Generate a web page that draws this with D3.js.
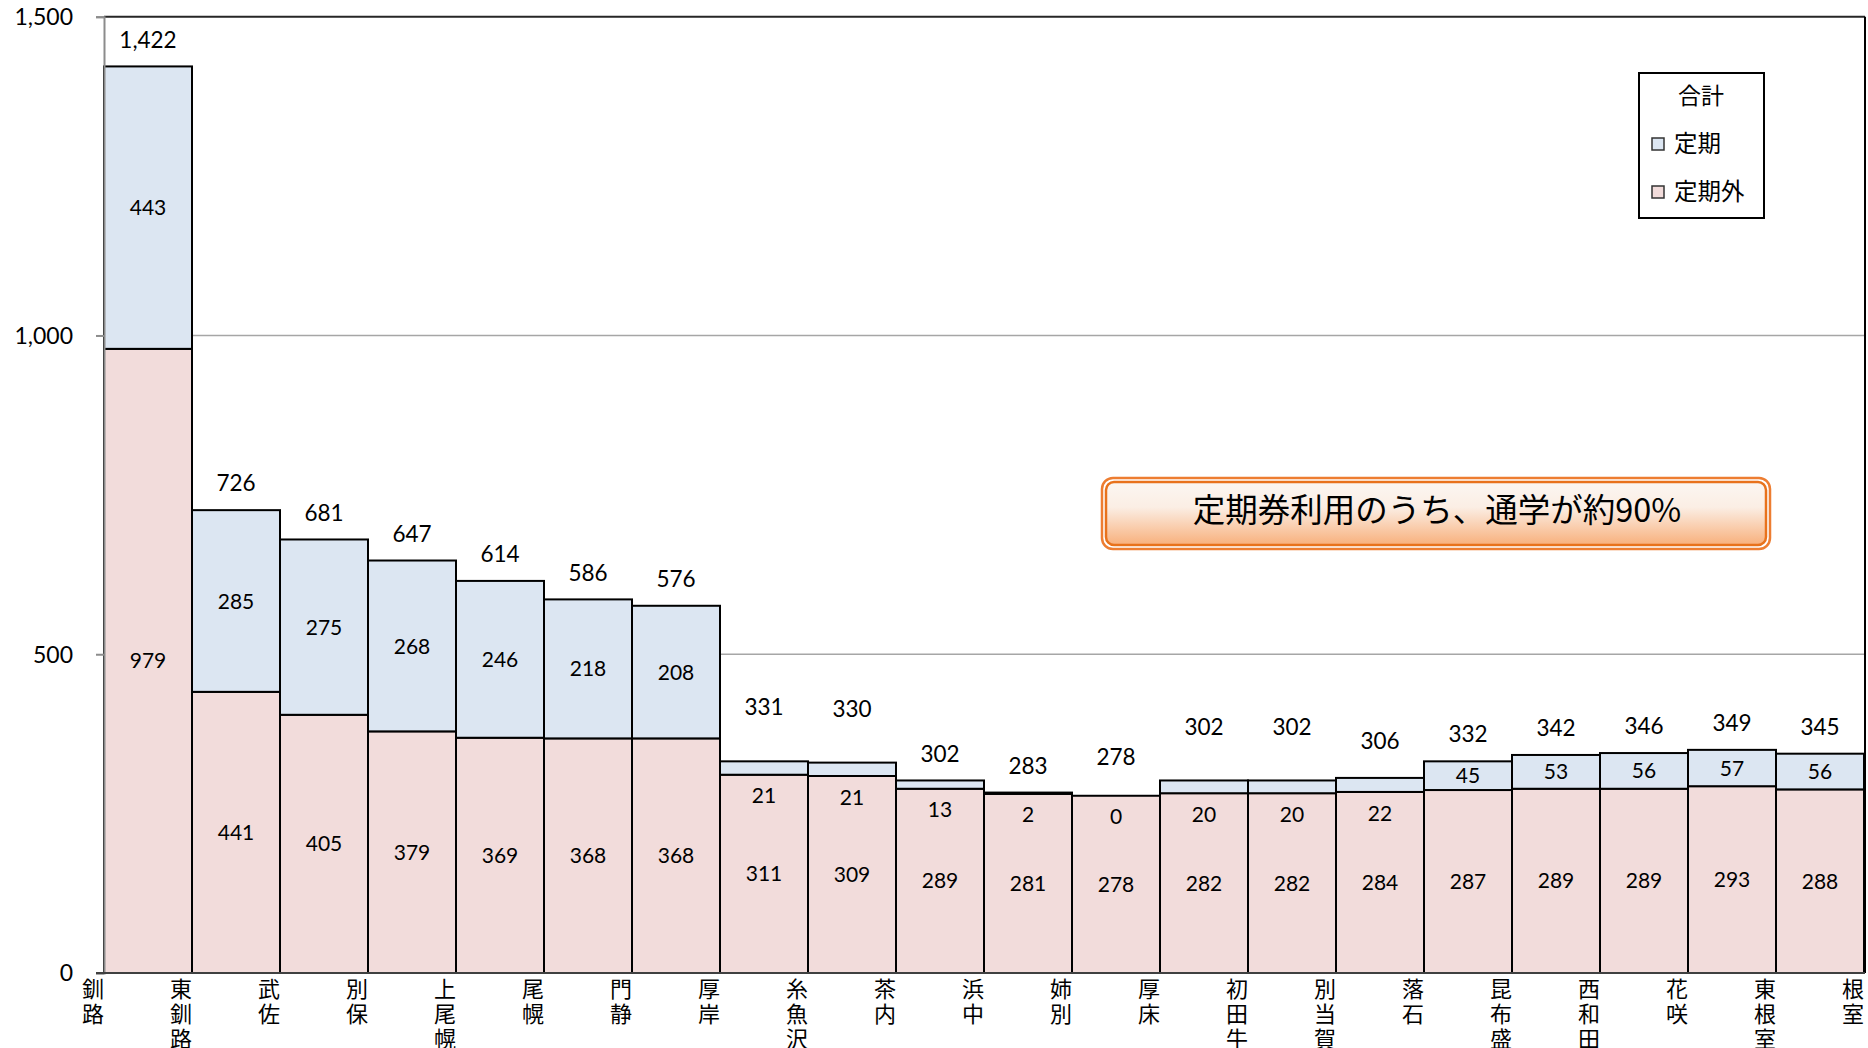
<!DOCTYPE html>
<html lang="ja">
<head>
<meta charset="utf-8">
<script src="https://cdn.jsdelivr.net/npm/d3@7"></script>
<style>
  html, body { margin: 0; padding: 0; background: #fff; overflow: hidden; }
  svg { display: block; }
  .num { font-family: Lato, "Open Sans", sans-serif; fill: #000; }
  .jp  { font-family: "Noto Sans CJK JP", "Noto Sans", sans-serif; fill: #000; }
</style>
</head>
<body>
<svg id="chart" width="1868" height="1048"></svg>
<script>
// Stations along the line, in order; each bar covers the section between two neighbours.
const stations = ["釧路","東釧路","武佐","別保","上尾幌","尾幌","門静","厚岸","糸魚沢","茶内",
                  "浜中","姉別","厚床","初田牛","別当賀","落石","昆布盛","西和田","花咲","東根室","根室"];

// Passengers per section: season-ticket (定期) and non-season-ticket (定期外).
const teiki    = [443, 285, 275, 268, 246, 218, 208, 21, 21, 13, 2, 0, 20, 20, 22, 45, 53, 56, 57, 56];
const teikigai = [979, 441, 405, 379, 369, 368, 368, 311, 309, 289, 281, 278, 282, 282, 284, 287, 289, 289, 293, 288];
// Published section totals (合計).
const totals   = [1422, 726, 681, 647, 614, 586, 576, 331, 330, 302, 283, 278, 302, 302, 306, 332, 342, 346, 349, 345];

// Extra lift (px) for total labels that sit higher to stay clear of neighbours.
const totalLabelLift = [0, 0, 0, 0, 0, 0, 0, 27, 27, 0, 0, 12, 27, 27, 10, 0, 0, 0, 0, 0];

const yTicks = [0, 500, 1000, 1500];
const seriesNames = ["定期", "定期外"];
const note = "定期券利用のうち、通学が約90%";

const colors = { teiki: "#dce6f2", teikigai: "#f2dcdb" };

const plot = { left: 104, right: 1864, top: 16.7, bottom: 973 };

const svg = d3.select("#chart");

const x = d3.scaleLinear().domain([0, stations.length - 1]).range([plot.left, plot.right]);
const y = d3.scaleLinear().domain([0, 1500]).range([plot.bottom, plot.top]);

// Gridlines
svg.append("g").selectAll("line")
  .data(yTicks.filter(t => t > 0 && t < 1500))
  .join("line")
  .attr("x1", plot.left).attr("x2", plot.right)
  .attr("y1", d => y(d)).attr("y2", d => y(d))
  .attr("stroke", "#a6a6a6").attr("stroke-width", 1.5);

// Stacked data
const rows = teiki.map((t, i) => ({ i, teiki: t, teikigai: teikigai[i], total: totals[i] }));
const stack = d3.stack().keys(["teikigai", "teiki"])(rows);

const barG = svg.append("g");
stack.forEach(layer => {
  barG.append("g").selectAll("rect")
    .data(layer)
    .join("rect")
    .attr("x", d => x(d.data.i))
    .attr("width", d => x(d.data.i + 1) - x(d.data.i))
    .attr("y", d => y(d[1]))
    .attr("height", d => Math.max(0, y(d[0]) - y(d[1])))
    .attr("fill", colors[layer.key])
    .attr("stroke", "#000")
    .attr("stroke-width", 2);
});

// Plot frame: top and right edges, bottom axis, left axis
svg.append("line").attr("x1", plot.left).attr("x2", plot.right + 1)
  .attr("y1", plot.top).attr("y2", plot.top).attr("stroke", "#262626").attr("stroke-width", 2);
svg.append("line").attr("x1", plot.right + 1).attr("x2", plot.right + 1)
  .attr("y1", plot.top).attr("y2", plot.bottom).attr("stroke", "#000").attr("stroke-width", 2);

const yAxis = d3.axisLeft(y).tickValues(yTicks).tickSize(8).tickFormat(d3.format(","));
const yG = svg.append("g").attr("transform", `translate(${plot.left},0)`).call(yAxis);
yG.select(".domain").attr("stroke", "#8c8c8c").attr("stroke-width", 2);
yG.selectAll(".tick line").attr("stroke", "#8c8c8c").attr("stroke-width", 2);
yG.selectAll(".tick text").attr("class", "num").attr("font-size", 23).attr("x", -31).attr("dy", "0.34em");

svg.append("line").attr("x1", plot.left - 8).attr("x2", plot.right + 1)
  .attr("y1", plot.bottom).attr("y2", plot.bottom).attr("stroke", "#404040").attr("stroke-width", 2);

// Station names, written vertically one character per line
const stG = svg.append("g");
stations.forEach((name, i) => {
  const t = stG.append("text").attr("class", "jp").attr("font-size", 22)
    .attr("text-anchor", "middle");
  Array.from(name).forEach((ch, k) => {
    t.append("tspan").attr("x", x(i) - 11).attr("y", 997 + k * 25).text(ch);
  });
});

// Value labels
const fmt = d3.format(",");
const labG = svg.append("g");
rows.forEach(d => {
  const cx = (x(d.i) + x(d.i + 1)) / 2;
  const top = y(d.teikigai + d.teiki);
  const pinkTop = y(d.teikigai);
  // total
  labG.append("text").attr("class", "num").attr("font-size", 22.5).attr("text-anchor", "middle")
    .attr("x", cx).attr("y", top - 27 - totalLabelLift[d.i]).attr("dy", "0.36em").text(fmt(d.total));
  // season-ticket segment
  const ty = d.teiki < 30 ? pinkTop + 21 : (top + pinkTop) / 2;
  labG.append("text").attr("class", "num").attr("font-size", 21).attr("text-anchor", "middle")
    .attr("x", cx).attr("y", ty).attr("dy", "0.36em").text(fmt(d.teiki));
  // non-season-ticket segment
  labG.append("text").attr("class", "num").attr("font-size", 21).attr("text-anchor", "middle")
    .attr("x", cx).attr("y", (pinkTop + plot.bottom) / 2).attr("dy", "0.36em").text(fmt(d.teikigai));
});

// Legend
const lg = svg.append("g");
lg.append("rect").attr("x", 1639).attr("y", 73).attr("width", 125).attr("height", 145)
  .attr("fill", "#fff").attr("stroke", "#000").attr("stroke-width", 2);
lg.append("text").attr("class", "jp").attr("font-size", 23).attr("text-anchor", "middle")
  .attr("x", 1701).attr("y", 96).attr("dy", "0.36em").text("合計");
seriesNames.forEach((s, k) => {
  const cy = 144 + k * 48;
  lg.append("rect").attr("x", 1652).attr("y", cy - 6).attr("width", 12).attr("height", 12)
    .attr("fill", k === 0 ? colors.teiki : colors.teikigai).attr("stroke", "#333").attr("stroke-width", 1.5);
  lg.append("text").attr("class", "jp").attr("font-size", 23.5)
    .attr("x", 1674).attr("y", cy).attr("dy", "0.36em").text(s);
});

// Callout box
const defs = svg.append("defs");
const grad = defs.append("linearGradient").attr("id", "calloutFill")
  .attr("x1", 0).attr("y1", 0).attr("x2", 0).attr("y2", 1);
grad.append("stop").attr("offset", "0%").attr("stop-color", "#fbf6f2");
grad.append("stop").attr("offset", "40%").attr("stop-color", "#fbeee4");
grad.append("stop").attr("offset", "100%").attr("stop-color", "#f8b07c");

const cb = { x: 1102, y: 478, w: 668, h: 71 };
svg.append("rect").attr("x", cb.x).attr("y", cb.y).attr("width", cb.w).attr("height", cb.h)
  .attr("rx", 11).attr("fill", "#fff").attr("stroke", "#ed7d31").attr("stroke-width", 2.5);
svg.append("rect").attr("x", cb.x + 4).attr("y", cb.y + 4).attr("width", cb.w - 8).attr("height", cb.h - 8)
  .attr("rx", 8).attr("fill", "url(#calloutFill)").attr("stroke", "#e8721c").attr("stroke-width", 2.5);
svg.append("text").attr("class", "jp").attr("font-size", 32.5).attr("text-anchor", "middle")
  .attr("x", cb.x + cb.w / 2 + 1).attr("y", cb.y + cb.h / 2 - 3).attr("dy", "0.36em").text(note);
</script>
</body>
</html>
